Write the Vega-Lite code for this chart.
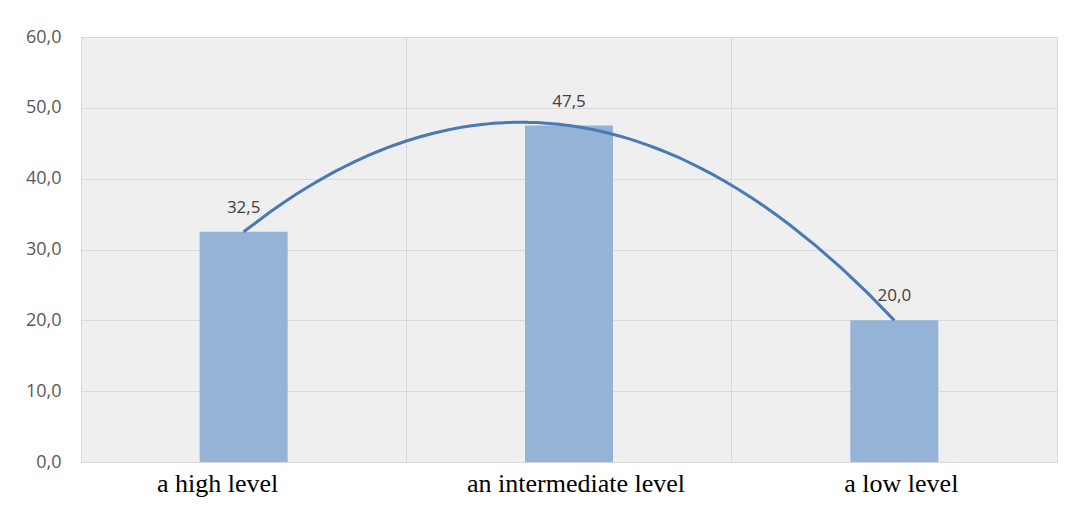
{
  "$schema": "https://vega.github.io/schema/vega-lite/v6.json",
  "width": 976,
  "height": 425,
  "autosize": {"type": "none"},
  "padding": {"left": 81, "top": 37, "right": 11, "bottom": 50},
  "config": {
    "locale": {"number": {"decimal": ",", "thousands": ".", "grouping": [3], "currency": ["", ""]}},
    "view": {"stroke": "#d9d9d9", "fill": "#efefef"},
    "background": "white"
  },
  "data": {
    "values": [
      {"level": "a high level", "order": 1, "value": 32.5},
      {"level": "an intermediate level", "order": 2, "value": 47.5},
      {"level": "a low level", "order": 3, "value": 20.0}
    ]
  },
  "resolve": {"scale": {"x": "independent"}, "axis": {"x": "independent"}},
  "layer": [
    {
      "encoding": {
        "x": {
          "field": "level", "type": "nominal", "sort": null,
          "scale": {"paddingInner": 0, "paddingOuter": 0},
          "axis": {
            "title": null, "labelAngle": 0, "ticks": false, "domain": false,
            "grid": true, "bandPosition": 0, "gridColor": "#d9d9d9",
            "labelFont": "Liberation Serif", "labelFontSize": 26, "labelColor": "#000000",
            "labelPadding": 8, "labelLimit": 0,
            "labelOffset": {"expr": "datum.value == 'a high level' ? -26 : 7"}
          }
        },
        "y": {
          "field": "value", "type": "quantitative",
          "scale": {"domain": [0, 60]},
          "axis": {
            "title": null, "values": [0, 10, 20, 30, 40, 50, 60], "format": ".1f",
            "ticks": false, "domain": false, "gridColor": "#d9d9d9",
            "labelFont": "Open Sans", "labelFontSize": 18, "labelColor": "#595959",
            "labelPadding": 20
          }
        }
      },
      "layer": [
        {"mark": {"type": "bar", "width": 88, "color": "#95b3d7"}},
        {
          "mark": {"type": "text", "baseline": "alphabetic", "dy": -19, "font": "Open Sans", "fontSize": 17, "color": "#404040"},
          "encoding": {"text": {"field": "value", "type": "quantitative", "format": ".1f"}}
        }
      ]
    },
    {
      "transform": [
        {"regression": "value", "on": "order", "method": "poly", "order": 2, "extent": [1, 3]}
      ],
      "mark": {"type": "line", "color": "#4a7ab4", "strokeWidth": 3},
      "encoding": {
        "x": {"field": "order", "type": "quantitative", "scale": {"domain": [0.5, 3.5], "nice": false, "zero": false}, "axis": null},
        "y": {"field": "value", "type": "quantitative", "scale": {"domain": [0, 60]}}
      }
    }
  ]
}
